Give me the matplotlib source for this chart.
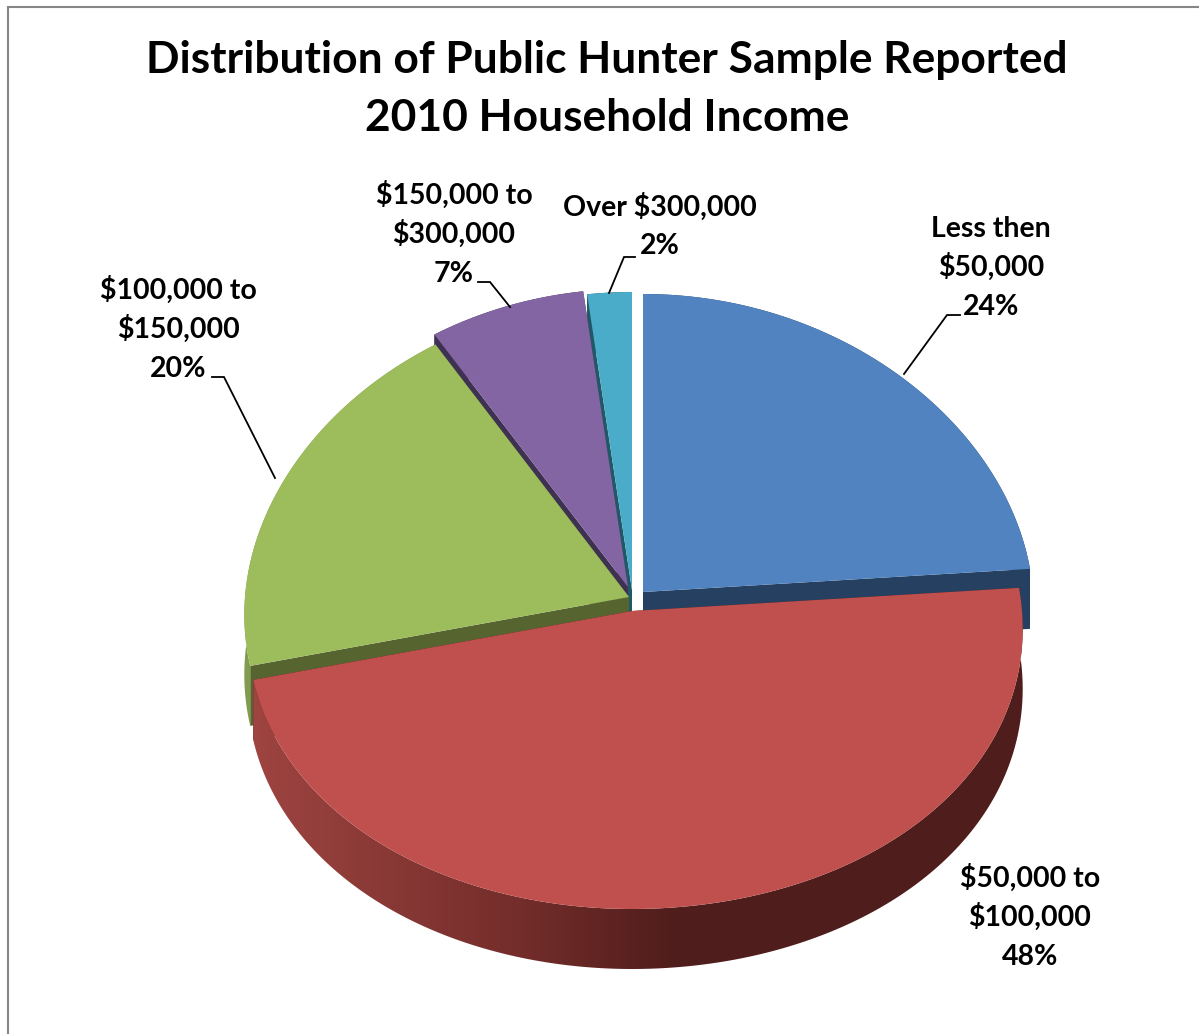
import numpy as np
import matplotlib
matplotlib.use('Agg')
import matplotlib.pyplot as plt
from matplotlib.colors import LinearSegmentedColormap
from matplotlib.patches import Polygon

categories = ['Less then\n$50,000', '$50,000 to\n$100,000', '$100,000 to\n$150,000',
              '$150,000 to\n$300,000', 'Over $300,000']
values = [24, 48, 20, 7, 2]
title_lines = ['Distribution of Public Hunter Sample Reported', '2010 Household Income']

face_colors = ['#5083c0', '#c0504d', '#9dbc5b', '#8265a2', '#4bacc9']
wall_colors = ['#254061', '#4f1d1b', '#566430', '#3f3151', '#205867']
arc_colors = ['#254061', None, '#819c4e', '#3f3151', '#205867']
centers = [(643, 592), (632, 611), (629, 597), (628, 587), (632, 590)]
label_pos = [(991, 266), (1030, 916), (178, 328), (454, 233), (660, 225)]
leaders = [[(904, 374), (947, 315), (960, 315)],
           [(275, 478), (224, 377), (212, 377)],
           [(510, 307), (490, 282), (478, 282)],
           [(609, 293), (624, 257), (635, 257)]]

RX_RIGHT, RX_LEFT, RY, DEPTH = 390, 384, 298, 60
LABEL_STEP = 39

plt.rcParams['font.family'] = ['Lato', 'DejaVu Sans']


def project(center, theta):
    # clockwise from 12 o'clock, narrower at the back for the perspective
    yn = -np.cos(theta)
    sn = np.sin(theta)
    factor = 1 + 0.06 * yn
    rx = np.where(sn < 0, RX_LEFT, RX_RIGHT)
    return np.column_stack([center[0] + rx * sn * factor,
                            center[1] + RY * yn])


fig = plt.figure(figsize=(11.99, 10.34), dpi=100)
ax = fig.add_axes([0, 0, 1, 1])

edges = np.cumsum([0] + values) / sum(values) * 2 * np.pi
down = np.array([0, DEPTH])

order = [4, 3, 2, 0, 1]
for i in order:
    z = 10 + order.index(i)
    theta = np.linspace(edges[i], edges[i + 1], 200)
    arc = project(centers[i], theta)
    vertex = np.array(centers[i], dtype=float)
    face = np.vstack([vertex, arc])

    # the two cut walls
    for end in (arc[0], arc[-1]):
        wall = np.array([vertex, end, end + down, vertex + down])
        ax.add_patch(Polygon(wall, closed=True, fc=wall_colors[i], ec='none', zorder=z))

    # outer wall
    outer = np.vstack([arc, (arc + down)[::-1]])
    if arc_colors[i] is not None:
        ax.add_patch(Polygon(outer, closed=True, fc=arc_colors[i], ec='none', zorder=z))
    else:
        cmap = LinearSegmentedColormap.from_list(
            'wall', [(0, '#9e4441'), (0.35, '#732d2a'), (0.55, '#4f1d1b'), (1, '#4f1d1b')])
        clip = Polygon(outer, closed=True, fc='none', ec='none', zorder=z,
                       transform=ax.transData)
        ax.add_patch(clip)
        img = ax.imshow(np.linspace(0, 1, 256)[None, :], cmap=cmap, aspect='auto',
                        extent=(outer[:, 0].min(), outer[:, 0].max(),
                                outer[:, 1].max(), outer[:, 1].min()), zorder=z)
        img.set_clip_path(clip)

    ax.add_patch(Polygon(face, closed=True, fc=face_colors[i], ec='none', zorder=z + 0.5))

for name, value, (x, y) in zip(categories, values, label_pos):
    lines = f'{name}\n{value}%'.split('\n')
    for k, line in enumerate(lines):
        # one text per line, the font's own line height is uneven here
        ax.text(x, y + (k - (len(lines) - 1) / 2) * LABEL_STEP + 10, line, ha='center',
                va='baseline', fontsize=20.5, fontweight='bold', color='black',
                parse_math=False, zorder=30)

for pts in leaders:
    pts = np.array(pts)
    ax.plot(pts[:, 0], pts[:, 1], color='black', lw=1.3, zorder=20, solid_joinstyle='miter')

for k, line in enumerate(title_lines):
    ax.text(607, 73 + k * 58, line, ha='center', va='baseline', fontsize=31.9,
            fontweight='bold', color='black', zorder=30)

# chart area border, only top and left are in the crop
ax.plot([8, 8, 1199], [1034, 7, 7], color='#868686', lw=1.5, zorder=40,
        solid_joinstyle='miter')

ax.set_xlim(0, 1199)
ax.set_ylim(1034, 0)
ax.axis('off')

fig.savefig('out.png', dpi=100)
